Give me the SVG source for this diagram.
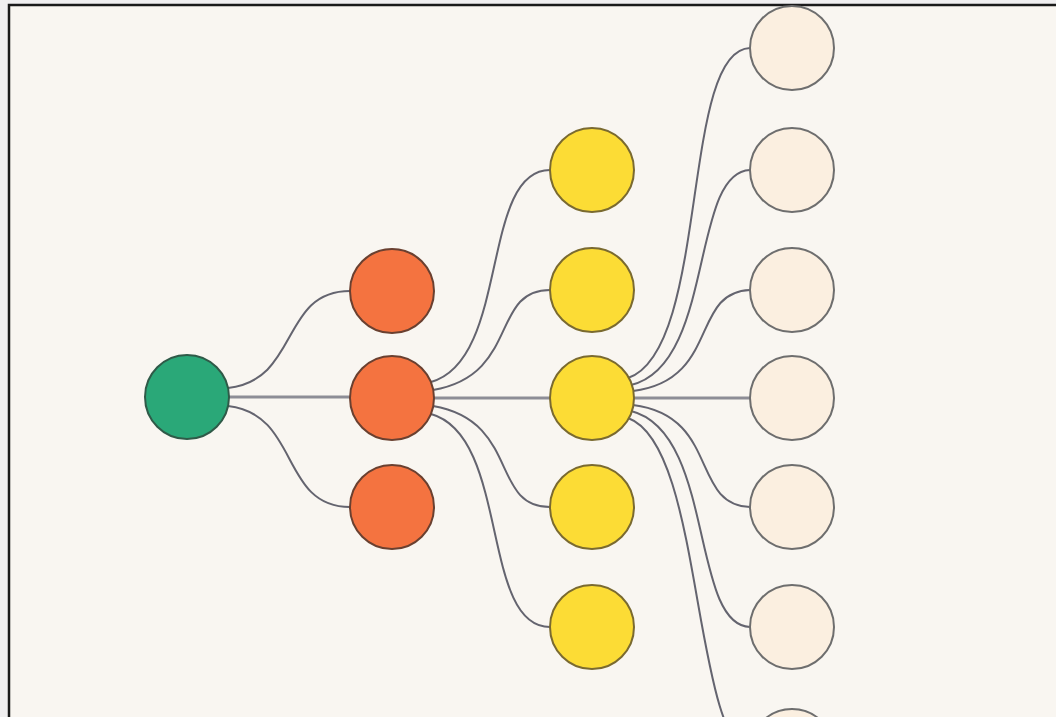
<svg xmlns="http://www.w3.org/2000/svg" width="1056" height="717" viewBox="0 0 1056 717">
<style>
.bg{fill:#f0eff0}
.panel{fill:#f9f6f1;stroke:#1a1a1a;stroke-width:2.5}
.edge{fill:none;stroke:#64646f;stroke-width:2}
.main{fill:none;stroke:#8d8d96;stroke-width:3}
.node{stroke-width:2}
.root{fill:#2aa878;stroke:#2f5a48}
.l1{fill:#f47340;stroke:#6a4030}
.l2{fill:#fcdc35;stroke:#7a6a30}
.l3{fill:#fbefe0;stroke:#6e6e6e}
</style>
<rect class="bg" x="0" y="0" width="1056" height="717"/>
<rect class="panel" x="9" y="5" width="1060" height="730"/>
<g id="connectors">
<path class="main" d="M229,397 H350"/>
<path class="edge" d="M228,388 C300,380 280,291 350,291"/>
<path class="edge" d="M228,406 C300,414 280,507 350,507"/>
<path class="main" d="M434,398 H550"/>
<path class="edge" d="M431,382 C510,360 480,170 550,170"/>
<path class="edge" d="M433,390 C520,375 490,290 550,290"/>
<path class="edge" d="M433,406 C520,421 490,507 550,507"/>
<path class="edge" d="M431,414 C510,436 480,627 550,627"/>
<path class="main" d="M634,398 H750"/>
<path class="edge" d="M628,378 C710,350 680,50 750,48"/>
<path class="edge" d="M631,385 C715,365 690,172 750,170"/>
<path class="edge" d="M633,391 C720,380 690,292 750,290"/>
<path class="edge" d="M633,405 C720,416 690,505 750,507"/>
<path class="edge" d="M631,411 C715,432 690,625 750,627"/>
<path class="edge" d="M628,418 C705,446 690,740 755,760"/>
</g>
<g id="n-root"><circle class="node root" cx="187" cy="397" r="42"/></g>
<g id="n-a1"><circle class="node l1" cx="392" cy="291" r="42"/></g>
<g id="n-a2"><circle class="node l1" cx="392" cy="398" r="42"/></g>
<g id="n-a3"><circle class="node l1" cx="392" cy="507" r="42"/></g>
<g id="n-b1"><circle class="node l2" cx="592" cy="170" r="42"/></g>
<g id="n-b2"><circle class="node l2" cx="592" cy="290" r="42"/></g>
<g id="n-b3"><circle class="node l2" cx="592" cy="398" r="42"/></g>
<g id="n-b4"><circle class="node l2" cx="592" cy="507" r="42"/></g>
<g id="n-b5"><circle class="node l2" cx="592" cy="627" r="42"/></g>
<g id="n-c1"><circle class="node l3" cx="792" cy="48" r="42"/></g>
<g id="n-c2"><circle class="node l3" cx="792" cy="170" r="42"/></g>
<g id="n-c3"><circle class="node l3" cx="792" cy="290" r="42"/></g>
<g id="n-c4"><circle class="node l3" cx="792" cy="398" r="42"/></g>
<g id="n-c5"><circle class="node l3" cx="792" cy="507" r="42"/></g>
<g id="n-c6"><circle class="node l3" cx="792" cy="627" r="42"/></g>
<g id="n-c7"><circle class="node l3" cx="792" cy="751" r="42"/></g>
</svg>
